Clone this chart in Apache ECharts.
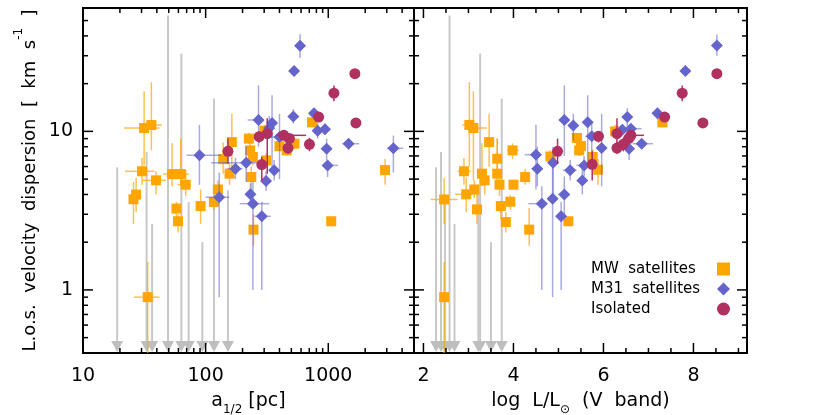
<!DOCTYPE html>
<html><head><meta charset="utf-8">
<script src="https://cdn.jsdelivr.net/npm/echarts@6/dist/echarts.min.js"></script>
<style>html,body{margin:0;padding:0;background:#fff}#c{width:830px;height:415px}</style>
</head><body><div id="c"></div>
<script>
// ---- data: [x, sigma, xlo, xhi, sigmaLo, sigmaHi] ----
// left panel: x = a_1/2 [pc]
const mwLeft = [
  [31.5,10.5,21.6,42,6.1,17.9],[36.1,10.96,32.6,44,7.6,20.4],[30.3,5.6,22,38.3,4.6,6.8],
  [39.4,4.91,30.4,47.5,4.0,5.6],[27.1,3.99,25,29,3.1,5.1],[25.8,3.73,24,27.5,2.6,4.8],
  [53.2,5.38,45,62,4.5,8.4],[62.7,5.38,55,73,4.5,9.0],[68.7,4.61,59,76,3.9,5.7],
  [57.8,3.26,55,61,2.8,3.6],[59.6,2.71,57,62,2.3,3.0],[91,3.38,87,95,2.6,4.3],
  [116.7,3.59,108,125,3.2,3.95],[125.9,4.3,118,133,3.8,4.9],[139,6.68,131,148,5.4,8.5],
  [156.7,5.41,148,165,4.6,6.3],[163.6,8.56,155,173,5.9,12.9],[225,9.0,215,235,8.3,9.8],
  [230.7,7.59,222,240,6.8,8.4],[242.6,6.89,233,252,6.1,7.7],[235.5,5.15,225,246,4.2,6.0],
  [311,6.56,295,327,5.9,7.3],[302,10.1,290,315,9.3,11],[400,8.07,385,415,7.5,8.7],
  [458,7.59,440,478,7.0,8.2],[530,8.36,510,550,7.8,9.0],[737,11.4,700,775,10.6,12.3],
  [2904,5.7,2700,3100,4.6,6.7],[245.5,2.4,235,256,1.9,3.0],[1057,2.71,1010,1100,2.55,2.9],
  [33.7,0.90,26,42,0.4,1.5]
];
const m31Left = [
  [589,34.7,570,610,29,41],[526,24.0,510,545,23,25],[519,12.4,495,545,11.2,13.8],
  [765,13.0,740,790,12.2,13.8],[819,10.1,790,850,9.0,11.3],[940,10.3,905,975,9.5,11.2],
  [969,7.78,930,1010,6.6,9.0],[987,6.1,900,1200,5.15,6.56],[1463,8.36,1300,1790,8.0,8.8],
  [3395,7.82,3000,4100,5.5,9.4],[270,11.8,220,290,8,19.5],[348,11.3,320,380,5.6,16.9],
  [330,10.5,315,350,9.5,12.5],[400,9.2,340,490,5,12.9],[89,7.06,70,134,4.6,11],
  [214,6.35,111,303,4.8,8],[175,5.82,150,200,5.0,6.8],[362,5.68,330,400,4.9,6.6],
  [311,4.86,290,335,4.2,5.6],[232,4.01,215,250,3.4,4.7],[243,3.5,190,330,1.0,4.8],
  [129,3.84,100,156,0.9,5.5],[287,2.91,250,340,1.0,3.6]
];
const isoLeft = [
  [1648,23.1,1648,1648,22,24.3],[1112,17.4,1112,1112,15.5,19.5],[834,12.3,834,834,11.5,13.1],
  [1679,11.3,1679,1679,10.8,11.8],[702,8.28,702,702,7.5,9.1],[273,9.26,273,273,8.5,10],
  [318,9.67,318,318,5.4,12.1],[434,9.44,375,660,9,9.9],[482,9.0,482,482,8.5,9.5],
  [470,7.85,470,470,7.2,8.6],[152,7.48,152,152,6.25,9.0],[287,6.17,287,287,4.9,6.9]
];
const ulLeftX = [19.0,33.0,36.6,49.3,63.4,72.7,94,117,152];
const ulLeftTop = [5.93,7.41,2.61,53.8,31.0,3.58,2.0,16.1,4.25];

// right panel: x = log L/Lsun (V band)
const mwRight = [
  [3.02,10.98,2.86,3.19,6.0,20.5],[3.11,10.5,2.94,3.41,4.9,17.9],[3.46,8.56,3.42,3.50,5.95,12.9],
  [3.98,7.59,3.86,4.12,6.7,8.4],[2.90,5.6,2.76,3.05,4.6,6.8],[3.64,6.72,3.60,3.68,5.15,9.0],
  [3.30,5.41,3.25,3.35,4.5,8.4],[3.64,5.41,3.58,3.70,4.5,9.0],[3.36,4.91,3.30,3.42,4.0,5.6],
  [3.69,4.61,3.62,3.76,3.9,5.7],[4.00,4.61,3.95,4.05,4.3,4.95],[4.26,5.15,4.20,4.32,4.6,5.8],
  [3.13,4.3,3.07,3.19,3.8,4.9],[2.95,4.01,2.70,3.10,3.1,5.1],[2.46,3.72,2.16,2.76,2.6,5.1],
  [3.72,3.38,3.68,3.76,2.8,3.6],[3.93,3.6,3.88,3.98,3.2,3.95],[3.19,3.22,3.15,3.23,2.6,4.3],
  [4.82,6.94,4.78,4.86,6.3,7.6],[5.41,9.08,5.35,5.47,8.4,9.8],[5.50,8.08,5.45,5.55,7.5,8.7],
  [5.46,7.59,5.40,5.52,7.0,8.2],[5.76,6.89,5.70,5.82,6.1,7.7],[5.88,5.73,5.82,5.94,4.6,6.7],
  [6.26,10.0,6.20,6.32,9.3,11.0],[7.31,11.4,7.25,7.37,10.6,12.3],[3.83,2.68,3.79,3.87,2.3,3.1],
  [4.35,2.4,4.31,4.39,1.9,3.3],[5.22,2.71,5.18,5.26,2.55,2.9],[2.46,0.90,2.42,2.50,0.4,1.5]
];
const m31Right = [
  [8.52,34.8,8.48,8.56,30,40.8],[7.82,24.0,7.78,7.86,23,25],[7.20,13.0,7.15,7.25,12.2,13.8],
  [6.53,12.3,6.48,6.58,10.7,14],[5.13,11.8,5.08,5.18,7.0,19.5],[5.33,10.9,5.28,5.38,8.8,12.9],
  [5.65,11.4,5.60,5.70,6.5,16.9],[6.42,10.25,6.35,6.50,9.5,11.0],[6.61,10.4,6.40,6.85,9.6,11.2],
  [5.74,9.3,5.60,5.95,7.0,11.5],[5.96,7.85,5.90,6.02,4.5,12.9],[6.57,7.78,6.52,6.62,6.6,9.0],
  [6.85,8.36,6.65,7.10,8.0,8.8],[4.50,7.13,4.25,4.60,4.3,11],[4.53,5.82,4.40,4.65,4.5,8.0],
  [4.88,6.35,4.84,4.92,4.0,8.0],[5.26,5.68,5.10,5.40,4.9,6.6],[5.57,6.1,5.40,5.75,5.2,7],
  [5.53,4.9,5.45,5.62,4.0,5.9],[4.63,3.5,4.33,4.74,1.0,4.5],[4.87,3.76,4.82,4.92,0.9,6.0],
  [5.13,4.0,5.00,5.25,2.9,5.2],[5.06,2.91,5.02,5.10,1.0,3.6]
];
const isoRight = [
  [8.52,23.1,8.52,8.52,22,24.3],[7.75,17.4,7.75,7.75,15.5,19.5],[7.36,12.3,7.36,7.36,11.5,13.1],
  [8.21,11.3,8.21,8.21,10.8,11.8],[5.89,9.3,5.89,5.89,8.5,10],[6.30,9.67,6.20,6.40,7.5,12.1],
  [6.61,9.44,6.50,6.90,9.0,9.9],[6.56,9.0,6.56,6.56,8.5,9.5],[6.44,8.28,6.44,6.44,7.5,9.1],
  [6.30,7.85,6.30,6.30,7.2,8.6],[4.98,7.48,4.98,4.98,6.25,9.0],[5.75,6.2,5.75,5.75,4.9,7.5]
];
const ulRightX = [2.28,2.39,2.48,2.58,2.69,3.22,3.26,3.50,3.74];
const ulRightTop = [5.93,7.41,3.58,53.8,2.61,4.25,31.0,2.0,16.1];

// axes / ticks
const xLeftRange = [10, 5000], xRightRange = [1.79, 9.19], yRange = [0.4, 60];
const xLeftMajor = [100, 1000];
const xLeftMinor = [20,30,40,50,60,70,80,90,200,300,400,500,600,700,800,900,2000,3000,4000];
const xLeftLabels = [10, 100, 1000];
const xRightMajor = [2, 4, 6, 8];
const xRightMinor = [2.5,3,3.5,4.5,5,5.5,6.5,7,7.5,8.5,9];
const xRightLabels = [2, 4, 6, 8];
const yMajor = [1, 10];
const yMinor = [0.5,0.6,0.7,0.8,0.9,2,3,4,5,6,7,8,9,20,30,40,50];
const yLabels = [1, 10];

const FONT = '"DejaVu Sans", sans-serif';
const C_MW = '#FFA500', C_M31 = '#6464CC', C_ISO = '#B03060';

function errSeries(data, gi, color, width, z) {
  return {
    type: 'custom', xAxisIndex: gi, yAxisIndex: gi, z: z, silent: true, clip: false,
    data: data,
    renderItem: function (p, api) {
      const x = api.value(0), y = api.value(1);
      const ch = [];
      const a = api.coord([api.value(2), y]), b = api.coord([api.value(3), y]);
      if (Math.abs(b[0] - a[0]) > 0.5) ch.push({type: 'line', shape: {x1: a[0], y1: a[1], x2: b[0], y2: b[1]}, style: {stroke: color, lineWidth: width}});
      const c = api.coord([x, api.value(4)]), d = api.coord([x, api.value(5)]);
      if (Math.abs(d[1] - c[1]) > 0.5) ch.push({type: 'line', shape: {x1: c[0], y1: c[1], x2: d[0], y2: d[1]}, style: {stroke: color, lineWidth: width}});
      return {type: 'group', children: ch};
    }
  };
}
function ptSeries(name, data, gi, symbol, size, color, z) {
  return {
    type: 'scatter', name: name, xAxisIndex: gi, yAxisIndex: gi, z: z, silent: true,
    symbol: symbol, symbolSize: size, itemStyle: {color: color, opacity: 1},
    data: data.map(d => [d[0], d[1]])
  };
}
function ulSeries(xs, tops, gi) {
  return {
    type: 'custom', xAxisIndex: gi, yAxisIndex: gi, z: 1, silent: true, clip: false,
    data: xs.map((x, i) => [x, tops[i]]),
    renderItem: function (p, api) {
      const t = api.coord([api.value(0), api.value(1)]);
      const b = api.coord([api.value(0), yRange[0]]);
      return {type: 'group', children: [
        {type: 'line', shape: {x1: t[0], y1: t[1], x2: b[0], y2: b[1] - 8}, style: {stroke: '#C8C8C8', lineWidth: 2}},
        {type: 'polygon', shape: {points: [[b[0] - 6, b[1] - 12], [b[0] + 6, b[1] - 12], [b[0], b[1] - 1]]}, style: {fill: '#BEBEBE'}}
      ]};
    }
  };
}
function xTickSeries(major, minor, gi) {
  const data = major.map(v => [v, yRange[0], 1]).concat(minor.map(v => [v, yRange[0], 0]));
  return {
    type: 'custom', xAxisIndex: gi, yAxisIndex: gi, z: 20, silent: true, clip: false, data: data,
    renderItem: function (p, api) {
      const len = api.value(2) ? 10 : 5;
      const b = api.coord([api.value(0), yRange[0]]), t = api.coord([api.value(0), yRange[1]]);
      return {type: 'group', children: [
        {type: 'line', shape: {x1: b[0], y1: b[1], x2: b[0], y2: b[1] - len}, style: {stroke: '#000', lineWidth: 1.5}},
        {type: 'line', shape: {x1: t[0], y1: t[1], x2: t[0], y2: t[1] + len}, style: {stroke: '#000', lineWidth: 1.5}}
      ]};
    }
  };
}
function yTickSeries(xr, gi) {
  const data = yMajor.map(v => [xr[0], v, 1]).concat(yMinor.map(v => [xr[0], v, 0]));
  return {
    type: 'custom', xAxisIndex: gi, yAxisIndex: gi, z: 20, silent: true, clip: false, data: data,
    renderItem: function (p, api) {
      const len = api.value(2) ? 10 : 5;
      const l = api.coord([xr[0], api.value(1)]), r = api.coord([xr[1], api.value(1)]);
      return {type: 'group', children: [
        {type: 'line', shape: {x1: l[0], y1: l[1], x2: l[0] + len, y2: l[1]}, style: {stroke: '#000', lineWidth: 1.5}},
        {type: 'line', shape: {x1: r[0], y1: r[1], x2: r[0] - len, y2: r[1]}, style: {stroke: '#000', lineWidth: 1.5}}
      ]};
    }
  };
}
function xLabelSeries(labels, gi) {
  return {
    type: 'custom', xAxisIndex: gi, yAxisIndex: gi, z: 20, silent: true, clip: false,
    data: labels.map(v => [v, yRange[0]]),
    renderItem: function (p, api) {
      const b = api.coord([api.value(0), yRange[0]]);
      return {type: 'text', x: b[0], y: b[1] + 23, style: {text: String(labels[p.dataIndex]), fill: '#000', font: '19px ' + FONT, align: 'center', verticalAlign: 'middle'}};
    }
  };
}
function yLabelSeries() {
  return {
    type: 'custom', xAxisIndex: 0, yAxisIndex: 0, z: 20, silent: true, clip: false,
    data: yLabels.map(v => [xLeftRange[0], v]),
    renderItem: function (p, api) {
      const l = api.coord([xLeftRange[0], api.value(1)]);
      return {type: 'text', x: l[0] - 10, y: l[1], style: {text: String(yLabels[p.dataIndex]), fill: '#000', font: '19px ' + FONT, align: 'right', verticalAlign: 'middle'}};
    }
  };
}

const baseAxis = {axisLine: {show: false}, axisTick: {show: false}, axisLabel: {show: false}, splitLine: {show: false}};
function nameStyle(size, pad) {
  return {
    color: '#000', fontFamily: FONT, fontSize: size, padding: pad,
    rich: {
      n: {fontFamily: FONT, fontSize: size, color: '#000', lineHeight: 22},
      sub: {fontFamily: FONT, fontSize: 12, color: '#000', verticalAlign: 'bottom', lineHeight: 22, padding: [0, 0, -4, 0]},
      sup: {fontFamily: FONT, fontSize: 12, color: '#000', verticalAlign: 'top', lineHeight: 22, padding: [-6, 0, 0, 0]}
    }
  };
}

const gridBase = {show: true, borderColor: '#000', borderWidth: 2, backgroundColor: 'transparent', containLabel: false, outerBoundsMode: 'none'};
const option = {
  animation: false,
  backgroundColor: '#fff',
  grid: [
    Object.assign({left: 83, top: 8, width: 331, height: 345}, gridBase),
    Object.assign({left: 414, top: 8, width: 333, height: 345}, gridBase)
  ],
  xAxis: [
    Object.assign({gridIndex: 0, type: 'log', logBase: 10, min: xLeftRange[0], max: xLeftRange[1],
      name: '{n|a}{sub|1/2}{n| [pc]}', nameLocation: 'middle', nameGap: 37, nameTextStyle: nameStyle(19, 0)}, baseAxis),
    Object.assign({gridIndex: 1, type: 'value', min: xRightRange[0], max: xRightRange[1],
      name: '{n|log  L/L}{sub|⊙}{n|  (V  band)}', nameLocation: 'middle', nameGap: 37, nameTextStyle: nameStyle(19, 0)}, baseAxis)
  ],
  yAxis: [
    Object.assign({gridIndex: 0, type: 'log', logBase: 10, min: yRange[0], max: yRange[1],
      name: '{n|L.o.s.  velocity  dispersion  [  km  s}{sup|-1}{n|  ]}', nameLocation: 'middle', nameRotate: 90, nameGap: 42, nameTextStyle: nameStyle(18, 0)}, baseAxis),
    Object.assign({gridIndex: 1, type: 'log', logBase: 10, min: yRange[0], max: yRange[1]}, baseAxis)
  ],
  legend: {
    left: 586, top: 254, orient: 'vertical', align: 'right', selectedMode: false,
    itemGap: 0, itemWidth: 13, itemHeight: 13, itemTextGap: 5,
    formatter: n => '{t|' + n.replace(' ', '  ') + '}',
    textStyle: {fontFamily: FONT, fontSize: 15, color: '#000', lineHeight: 20,
      rich: {t: {fontFamily: FONT, fontSize: 15, color: '#000', width: 121, align: 'left', lineHeight: 20}}},
    data: [
      {name: 'MW satellites', icon: 'rect', itemStyle: {color: C_MW}},
      {name: 'M31 satellites', icon: 'diamond', itemStyle: {color: C_M31}},
      {name: 'Isolated', icon: 'circle', itemStyle: {color: C_ISO}}
    ]
  },
  series: [
    ulSeries(ulLeftX, ulLeftTop, 0), ulSeries(ulRightX, ulRightTop, 1),
    errSeries(mwLeft, 0, 'rgba(255,165,0,0.7)', 1.5, 2), errSeries(mwRight, 1, 'rgba(255,165,0,0.7)', 1.5, 2),
    ptSeries('MW satellites', mwLeft, 0, 'rect', 10, C_MW, 3), ptSeries('MW satellites', mwRight, 1, 'rect', 10, C_MW, 3),
    errSeries(m31Left, 0, 'rgba(100,100,204,0.55)', 1.5, 4), errSeries(m31Right, 1, 'rgba(100,100,204,0.55)', 1.5, 4),
    ptSeries('M31 satellites', m31Left, 0, 'diamond', 12, C_M31, 5), ptSeries('M31 satellites', m31Right, 1, 'diamond', 12, C_M31, 5),
    errSeries(isoLeft, 0, C_ISO, 1.5, 6), errSeries(isoRight, 1, C_ISO, 1.5, 6),
    ptSeries('Isolated', isoLeft, 0, 'circle', 11, C_ISO, 7), ptSeries('Isolated', isoRight, 1, 'circle', 11, C_ISO, 7),
    xTickSeries(xLeftMajor, xLeftMinor, 0), xTickSeries(xRightMajor, xRightMinor, 1),
    yTickSeries(xLeftRange, 0), yTickSeries(xRightRange, 1),
    xLabelSeries(xLeftLabels, 0), xLabelSeries(xRightLabels, 1), yLabelSeries()
  ]
};
const chart = echarts.init(document.getElementById('c'), null, {renderer: 'canvas'});
chart.setOption(option);
</script>
</body></html>
